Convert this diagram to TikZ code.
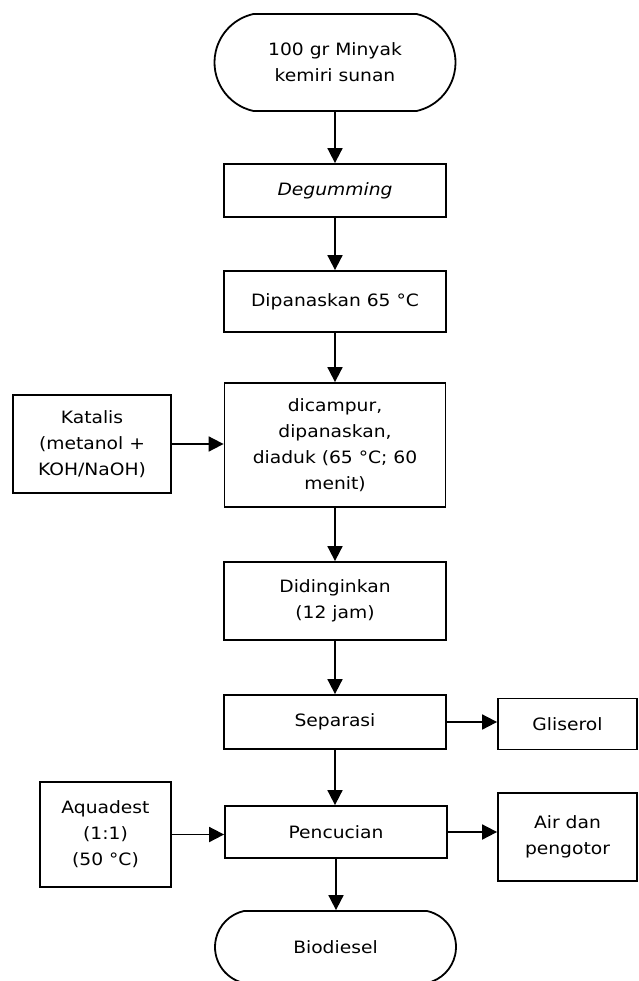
\documentclass[tikz,border=0pt]{standalone}
\usepackage{fontspec}
\setmainfont{DejaVu Sans}[FakeStretch=1.1]
\usetikzlibrary{arrows.meta,shapes.misc}

\tikzset{
	proses/.style={draw,line width=1.8pt,align=center,inner sep=2pt,
		font=\fontsize{17}{26}\selectfont},
	terminal/.style={proses,rounded rectangle,rounded rectangle arc length=155},
	panah/.style={line width=1.8pt,-{Triangle[length=15pt,width=15pt]}}
}

\begin{document}
\begin{tikzpicture}[x=1pt,y=-1pt]
		\useasboundingbox (0,0) rectangle (638,981);

		%------------------------------------------------------
		\node[terminal,minimum width=245pt,minimum height=97pt] (minyak) at (335,62.5) {100 gr Minyak\\kemiri sunan};
		\node[proses,minimum width=222pt,minimum height=53pt] (degum) at (335,190.5) {\itshape Degumming};
		\node[proses,minimum width=222pt,minimum height=61pt] (panas) at (335,301.5) {Dipanaskan 65 °C};
		%------------------------------------------------------


		%------------------------------------------------------
		\node[proses,minimum width=158pt,minimum height=98pt] (katalis) at (92,444) {Katalis\\(metanol +\\KOH/NaOH)};
		\node[proses,minimum width=221pt,minimum height=124pt] (campur) at (335,445) {dicampur,\\dipanaskan,\\diaduk (65 °C; 60\\menit)};
		\node[proses,minimum width=222pt,minimum height=78pt] (dingin) at (335,601) {Didinginkan\\(12 jam)};
		%------------------------------------------------------


		%------------------------------------------------------
		\node[proses,minimum width=222pt,minimum height=54pt] (separasi) at (335,722) {Separasi};
		\node[proses,minimum width=139pt,minimum height=51pt] (gliserol) at (567.5,724) {Gliserol};
		\node[proses,minimum width=131pt,minimum height=105pt] (aquadest) at (105.5,834.5) {Aquadest\\(1:1)\\(50 °C)};
		\node[proses,minimum width=222pt,minimum height=52pt] (cuci) at (336,832) {Pencucian};
		\node[proses,minimum width=139pt,minimum height=88pt] (air) at (567.5,837) {Air dan\\pengotor};
		\node[terminal,minimum width=245pt,minimum height=72pt] (biodiesel) at (335.5,947) {Biodiesel};
		%------------------------------------------------------


		%------------------------------------------------------
		\draw[panah] (minyak) -- (degum);
		\draw[panah] (degum) -- (panas);
		\draw[panah] (panas) -- (campur);
		\draw[panah] (katalis) -- (katalis -| campur.west);
		\draw[panah] (campur) -- (dingin);
		\draw[panah] (dingin) -- (separasi);
		\draw[panah] (separasi.east) -- (separasi.east -| gliserol.west);
		\draw[panah] (separasi.south) -- (separasi.south |- cuci.north);
		\draw[panah] (aquadest) -- (aquadest -| cuci.west);
		\draw[panah] (cuci) -- (cuci -| air.west);
		\draw[panah] (cuci) -- (cuci |- biodiesel.north);
		%------------------------------------------------------

	\end{tikzpicture}
\end{document}
